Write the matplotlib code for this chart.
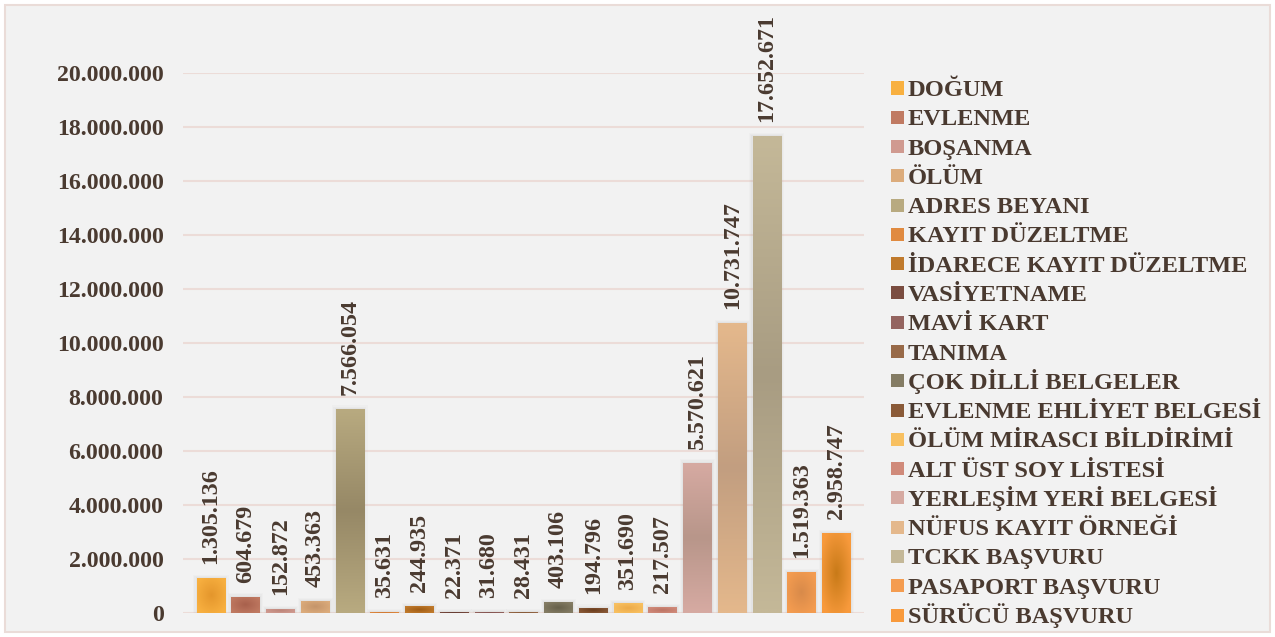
import numpy as np
import matplotlib.pyplot as plt
from matplotlib.patches import Rectangle
from matplotlib.colors import to_rgb

categories = [
    "DOĞUM", "EVLENME", "BOŞANMA", "ÖLÜM", "ADRES BEYANI", "KAYIT DÜZELTME",
    "İDARECE KAYIT DÜZELTME", "VASİYETNAME", "MAVİ KART", "TANIMA",
    "ÇOK DİLLİ BELGELER", "EVLENME EHLİYET BELGESİ", "ÖLÜM MİRASCI BİLDİRİMİ",
    "ALT ÜST SOY LİSTESİ", "YERLEŞİM YERİ BELGESİ", "NÜFUS KAYIT ÖRNEĞİ",
    "TCKK BAŞVURU", "PASAPORT BAŞVURU", "SÜRÜCÜ BAŞVURU",
]
values = [
    1305136, 604679, 152872, 453363, 7566054, 35631, 244935, 22371, 31680,
    28431, 403106, 194796, 351690, 217507, 5570621, 10731747, 17652671,
    1519363, 2958747,
]
yticks = list(range(0, 20000001, 2000000))

# gradient styling: edge colour, centre colour, kind (r = radial, v = vertical)
edge_cols = ['#f8b040', '#c07a62', '#d09a90', '#dcac7c', '#b8aa80', '#e08a40',
             '#c07a2c', '#7a4c40', '#946460', '#986a48', '#847c64', '#8a5a38',
             '#f8c060', '#d08a7a', '#d6aaa2', '#e4b88c', '#c4b898', '#f49c50',
             '#f89a3c']
mid_cols = ['#e4962c', '#a8604c', '#bc8478', '#c4946a', '#968866', '#c8702c',
            '#a05c14', '#5c342c', '#7c4c48', '#7c5030', '#66604a', '#6a3c1c',
            '#ecaa48', '#bc7464', '#b8968a', '#c29e80', '#a89c82', '#d88a4a',
            '#c87a18']
kinds = ['r', 'r', 'r', 'r', 'v', 'r', 'r', 'r', 'r', 'r', 'r', 'r', 'r', 'r',
         'v', 'v', 'v', 'r', 'r']

text_color = '#4a3a30'
plt.rcParams['font.family'] = ['Liberation Serif', 'DejaVu Serif']
plt.rcParams['font.weight'] = 'bold'

W, H = 1275, 637
fig = plt.figure(figsize=(W / 100, H / 100), dpi=100)
fig.patch.set_facecolor('white')
fig.patches.append(Rectangle((0.004, 0.008), 0.992, 0.984, transform=fig.transFigure,
                             facecolor='#f2f2f2', edgecolor='#eadcd8', lw=1.5, zorder=-5))

ax = fig.add_axes([0.1435, 0.0377, 0.5345, 0.8477])
ax.set_facecolor('none')

x = np.arange(len(values))
w = 0.83
bars = ax.bar(x, values, width=w, color=mid_cols, zorder=2)


def gradient(c_edge, c_mid, kind, n=60):
    e = np.array(to_rgb(c_edge))
    m = np.array(to_rgb(c_mid))
    t = np.linspace(-1, 1, n)
    if kind == 'v':
        r = np.abs(t)[:, None] * np.ones((1, n))
    else:
        xx, yy = np.meshgrid(t, t)
        r = np.clip(np.sqrt(xx ** 2 + yy ** 2) / 1.2, 0, 1)
    return m + (e - m) * r[..., None]


for b, ce, cm, k in zip(bars, edge_cols, mid_cols, kinds):
    x0, h = b.get_x(), b.get_height()
    # soft shadow
    for i, a in enumerate([0.05, 0.04, 0.03]):
        d = 0.03 * (i + 1)
        ax.add_patch(Rectangle((x0 - d, 0), w + 2 * d, h + 40000 * (i + 1),
                               facecolor='#808080', alpha=a, lw=0, zorder=1))
    im = ax.imshow(gradient(ce, cm, k), extent=[x0, x0 + w, 0, h], aspect='auto',
                   interpolation='bilinear', zorder=3)
    im.set_clip_path(b)

for xi, v in zip(x, values):
    ax.annotate(f"{v:,}".replace(',', '.'), (xi, v), xytext=(0, 10),
                textcoords='offset points', rotation=90, ha='center', va='bottom',
                fontsize=17.3, color=text_color, annotation_clip=False)

ax.set_xlim(-0.806, 18.806)
ax.set_ylim(0, 20000000)
ax.set_yticks(yticks)
ax.set_yticklabels([f"{t:,}".replace(',', '.') for t in yticks])
ax.set_xticks([])
ax.tick_params(axis='y', length=0, pad=14, labelsize=17.2, labelcolor=text_color)
ax.grid(axis='y', color='#ecdcd8', lw=1.5, zorder=0)
ax.set_axisbelow(True)
for s in ax.spines.values():
    s.set_visible(False)

# legend drawn row by row so the spacing stays even
row0, step, sq = 88, 29.28, 13
for i, (lab, c) in enumerate(zip(categories, edge_cols)):
    yc = row0 + i * step
    fig.patches.append(Rectangle((891 / W, 1 - (yc + sq / 2) / H), sq / W, sq / H,
                                 transform=fig.transFigure, facecolor=c, lw=0))
    fig.text(908 / W, 1 - (yc + 8) / H, lab, fontsize=17.6, color=text_color,
             ha='left', va='baseline')

fig.savefig('out.png', dpi=100, facecolor=fig.get_facecolor())
